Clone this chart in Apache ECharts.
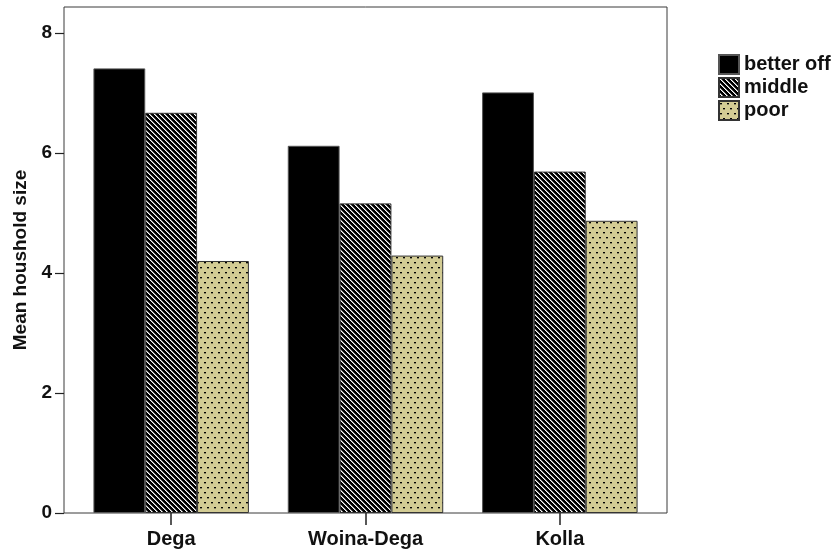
<!DOCTYPE html>
<html>
<head>
<meta charset="utf-8">
<script src="https://cdn.jsdelivr.net/npm/echarts@6/dist/echarts.min.js"></script>
<style>
html,body{margin:0;padding:0;background:#fff;}
#chart{width:837px;height:555px;}
</style>
</head>
<body>
<div id="chart"></div>
<script>
var categories = ['Dega', 'Woina-Dega', 'Kolla'];
var seriesNames = ['better off', 'middle', 'poor'];
var betterOff = [7.41, 6.12, 7.01];
var middle = [6.67, 5.16, 5.69];
var poor = [4.20, 4.29, 4.87];
var yTicks = [0, 2, 4, 6, 8];

function stripePattern() {
  var c = document.createElement('canvas');
  c.width = 5; c.height = 5;
  var ctx = c.getContext('2d');
  ctx.fillStyle = '#000';
  ctx.fillRect(0, 0, 5, 5);
  for (var y = 0; y < 5; y++) {
    ctx.fillStyle = '#fff';
    ctx.fillRect(y, y, 1, 1);
    ctx.fillStyle = 'rgba(255,255,255,0.55)';
    ctx.fillRect((y + 1) % 5, y, 1, 1);
  }
  return { image: c, repeat: 'repeat' };
}
function dotPattern() {
  var c = document.createElement('canvas');
  c.width = 7; c.height = 10;
  var ctx = c.getContext('2d');
  ctx.fillStyle = '#d3cc94';
  ctx.fillRect(0, 0, 7, 10);
  ctx.fillStyle = '#000';
  ctx.fillRect(1, 2, 2, 1);
  ctx.fillRect(4, 7, 2, 1);
  ctx.fillStyle = 'rgba(0,0,0,0.35)';
  ctx.fillRect(1, 3, 2, 1);
  ctx.fillRect(4, 8, 2, 1);
  return { image: c, repeat: 'repeat' };
}

var font = 'Liberation Sans, Arial, sans-serif';
var chart = echarts.init(document.getElementById('chart'), null, { renderer: 'canvas' });
var option = {
  animation: false,
  backgroundColor: '#fff',
  grid: [
    { left: 64, right: 170, top: 7, bottom: 42, show: true, borderColor: '#3a3a3a', borderWidth: 1, backgroundColor: 'transparent' },
    { left: 74, right: 180, top: 7, bottom: 42 }
  ],
  legend: {
    orient: 'vertical',
    left: 713,
    top: 49,
    itemWidth: 20,
    itemHeight: 19,
    itemGap: 2,
    icon: 'rect',
    data: seriesNames,
    textStyle: { fontFamily: font, fontWeight: 'bold', fontSize: 20, lineHeight: 19, color: '#111' }
  },
  xAxis: [
    { gridIndex: 0, type: 'value', show: false, min: 0, max: 1 },
    {
      gridIndex: 1, type: 'category', data: categories,
      axisLine: { show: false },
      axisTick: { show: true, alignWithLabel: true, length: 12, lineStyle: { color: '#222', width: 1.5 } },
      axisLabel: { margin: 16, fontFamily: font, fontWeight: 'bold', fontSize: 20, color: '#111' }
    }
  ],
  yAxis: [
    { gridIndex: 0, type: 'value', show: false, min: 0, max: 1 },
    {
      gridIndex: 1, type: 'value', min: 0, max: 8.433, interval: 2, offset: 10,
      name: 'Mean houshold size', nameLocation: 'middle', nameRotate: 90, nameGap: 33,
      nameTextStyle: { fontFamily: font, fontWeight: 'bold', fontSize: 19, color: '#111' },
      axisLine: { show: false },
      splitLine: { show: false },
      axisTick: { show: true, length: 9, customValues: yTicks, lineStyle: { color: '#222', width: 1.2 } },
      axisLabel: { margin: 12, customValues: yTicks, fontFamily: font, fontWeight: 'bold', fontSize: 19, color: '#111' }
    }
  ],
  series: [
    {
      name: seriesNames[0], type: 'bar', xAxisIndex: 1, yAxisIndex: 1, data: betterOff,
      barGap: '0%', barCategoryGap: '20%',
      itemStyle: { color: '#000', borderColor: '#555', borderWidth: 1 }
    },
    {
      name: seriesNames[1], type: 'bar', xAxisIndex: 1, yAxisIndex: 1, data: middle,
      barGap: '0%', barCategoryGap: '20%',
      itemStyle: { color: stripePattern(), borderColor: '#333', borderWidth: 1 }
    },
    {
      name: seriesNames[2], type: 'bar', xAxisIndex: 1, yAxisIndex: 1, data: poor,
      barGap: '0%', barCategoryGap: '20%',
      itemStyle: { color: dotPattern(), borderColor: '#333', borderWidth: 1 }
    }
  ]
};
chart.setOption(option);
</script>
</body>
</html>
